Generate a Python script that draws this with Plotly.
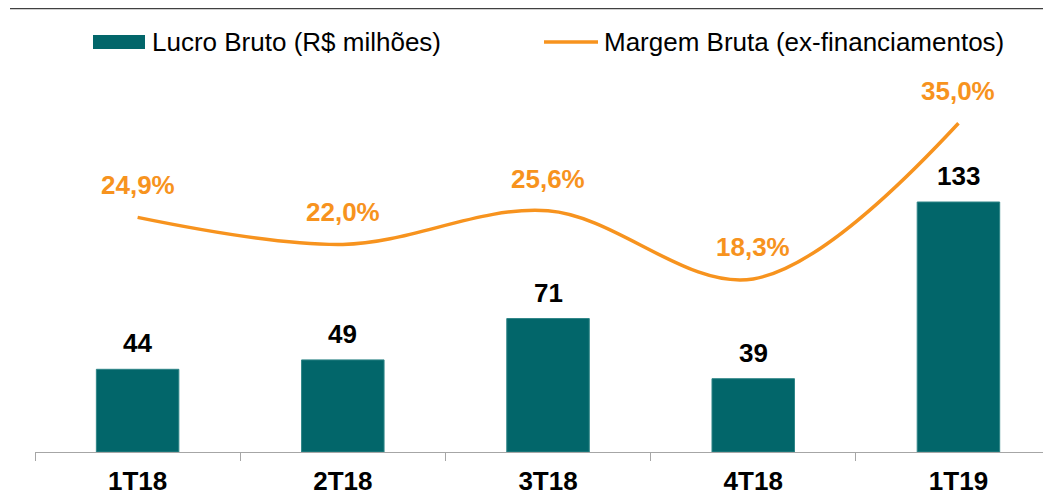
import plotly.graph_objects as go

# ---- data ----
categories = ["1T18", "2T18", "3T18", "4T18", "1T19"]
lucro_bruto = [44, 49, 71, 39, 133]             # R$ milhões
margem_bruta = [24.9, 22.0, 25.6, 18.3, 35.0]    # %
bar_labels = ["44", "49", "71", "39", "133"]
margin_labels = ["24,9%", "22,0%", "25,6%", "18,3%", "35,0%"]
legend_bar = "Lucro Bruto (R$ milhões)"
legend_line = "Margem Bruta (ex-financiamentos)"

TEAL = "#02666A"
ORANGE = "#F7931E"
FONT = "Liberation Sans, Arial, sans-serif"

# page body has an 8px default margin: the figure is shrunk to fit the window
OFF = 8
W, H = 1051 - OFF, 496 - OFF
# plot area in window pixels: x 35..1051, y 60..452
PL, PR, PT, PB = 35, 1051, 60, 452
ML, MR, MT, MB = PL - OFF, 0, PT - OFF, H + OFF - PB
PW = PR - PL
PH = PB - PT


def px_x(x):
    return (x - PL) / PW


def px_y(y):
    return (PB - y) / PH


fig = go.Figure()
fig.add_trace(go.Bar(
    x=categories, y=lucro_bruto, marker=dict(color=TEAL, line=dict(color="#2F8587", width=1)),
    width=0.402, showlegend=False, name=legend_bar, hoverinfo="skip",
))
fig.add_trace(go.Scatter(
    x=categories, y=margem_bruta, yaxis="y2", mode="lines",
    line=dict(color=ORANGE, width=3.5, shape="spline", smoothing=1.0),
    showlegend=False, name=legend_line, hoverinfo="skip",
))

annotations = []
for c, v, t in zip(categories, lucro_bruto, bar_labels):
    annotations.append(dict(
        x=c, y=v, xref="x", yref="y", text=f"<b>{t}</b>", showarrow=False,
        yshift=26, yanchor="middle", xanchor="center",
        font=dict(family=FONT, size=26, color="#000000"),
    ))
for c, v, t in zip(categories, margem_bruta, margin_labels):
    annotations.append(dict(
        x=c, y=v, xref="x", yref="y2", text=f"<b>{t}</b>", showarrow=False,
        yshift=32, yanchor="middle", xanchor="center",
        font=dict(family=FONT, size=26, color=ORANGE),
    ))
# manual legend texts
annotations.append(dict(
    x=px_x(150), y=px_y(42), xref="paper", yref="paper", text=legend_bar,
    showarrow=False, xanchor="left", yanchor="middle",
    font=dict(family=FONT, size=26, color="#000000"),
))
annotations.append(dict(
    x=px_x(602), y=px_y(42), xref="paper", yref="paper", text=legend_line,
    showarrow=False, xanchor="left", yanchor="middle",
    font=dict(family=FONT, size=26, color="#000000"),
))

shapes = [
    # top rule
    dict(type="line", xref="paper", yref="paper", x0=px_x(10), x1=1.0,
         y0=px_y(8.5), y1=px_y(8.5), line=dict(color="#404040", width=1.5)),
    # legend swatches
    dict(type="rect", xref="paper", yref="paper", x0=px_x(93), x1=px_x(145),
         y0=px_y(49), y1=px_y(35), fillcolor=TEAL, line=dict(width=0)),
    dict(type="line", xref="paper", yref="paper", x0=px_x(544), x1=px_x(598),
         y0=px_y(42), y1=px_y(42), line=dict(color=ORANGE, width=3.5)),
]

fig.update_layout(
    width=W, height=H,
    margin=dict(l=ML, r=MR, t=MT, b=MB, pad=0),
    paper_bgcolor="white", plot_bgcolor="white",
    showlegend=False,
    xaxis=dict(
        type="category", range=[-0.5, 4.451], tickson="boundaries",
        ticks="outside", ticklen=8, tickcolor="#A6A6A6", tickwidth=1,
        showline=True, linecolor="#A6A6A6", linewidth=1,
        showgrid=False, zeroline=False, fixedrange=True,
        tickfont=dict(family=FONT, size=26, color="#000000"),
        tickprefix="<b>", ticksuffix="</b>", ticklabelstandoff=6,
    ),
    yaxis=dict(range=[0, 208.55], visible=False, showgrid=False, zeroline=False),
    yaxis2=dict(range=[-0.265, 41.78], overlaying="y", side="right", visible=False,
                showgrid=False, zeroline=False),
    annotations=annotations,
    shapes=shapes,
)

fig.write_html("out.html")
